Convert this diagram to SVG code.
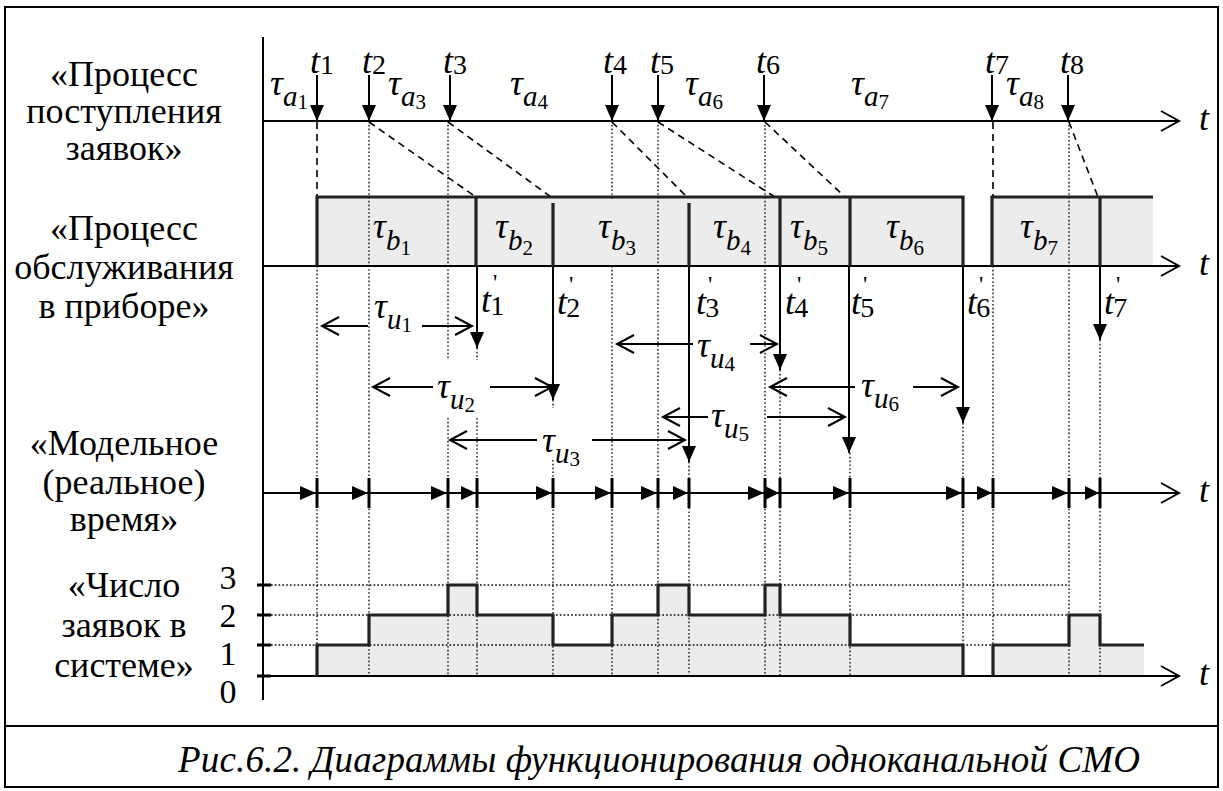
<svg xmlns="http://www.w3.org/2000/svg" width="1223" height="791" viewBox="0 0 1223 791" font-family="Times New Roman, Liberation Serif, Tinos, DejaVu Serif, serif">
<style>
text{font-family:"Times New Roman","Liberation Serif",Tinos,"DejaVu Serif",serif;fill:#000}
.lbl{font-size:36px;text-anchor:middle}
.m{font-size:36px;font-style:italic}
.s1{font-size:29px;font-style:italic}
.d1{font-size:28px;font-style:normal}
.d2{font-size:21px;font-style:normal}
.pr{font-size:24px;font-style:normal}
.num{font-size:34px;text-anchor:middle}
.cap{font-size:37px;font-style:italic}
.ax{stroke:#000;stroke-width:2;fill:none}
.oa{stroke:#000;stroke-width:2;fill:none}
.dot{stroke:#000;stroke-width:1.3;stroke-dasharray:1.6 2.2;fill:none}
.dash{stroke:#000;stroke-width:1.6;stroke-dasharray:7 5;fill:none}
.thick{stroke:#222;stroke-width:3.2;fill:none}
.fillg{fill:#ececec;stroke:none}
.arr{stroke:#000;stroke-width:2;fill:none}
.head{fill:#000;stroke:none}
</style>
<defs>
<marker id="down" viewBox="0 0 16 14" refX="16" refY="7" markerWidth="16" markerHeight="14" markerUnits="userSpaceOnUse" orient="auto">
<path d="M0,0 L16,7 L0,14 Z" fill="#000"/>
</marker>
</defs>
<rect x="5" y="7" width="1213" height="780" fill="#fff" stroke="#000" stroke-width="2"/>
<line x1="5" y1="726" x2="1218" y2="726" stroke="#000" stroke-width="2"/>

<g id="labels-left">
<text class="lbl" x="124" y="86">«Процесс</text>
<text class="lbl" x="124" y="123">поступления</text>
<text class="lbl" x="124" y="160">заявок»</text>
<text class="lbl" x="124" y="240">«Процесс</text>
<text class="lbl" x="124" y="279">обслуживания</text>
<text class="lbl" x="124" y="318">в приборе»</text>
<text class="lbl" x="124" y="455">«Модельное</text>
<text class="lbl" x="124" y="494">(реальное)</text>
<text class="lbl" x="124" y="531">время»</text>
<text class="lbl" x="124" y="597">«Число</text>
<text class="lbl" x="124" y="637">заявок в</text>
<text class="lbl" x="124" y="677">системе»</text>
</g>

<g id="service-fill">
<rect class="fillg" x="317" y="197" width="646" height="69"/>
<rect class="fillg" x="992" y="197" width="161" height="69"/>
</g>

<g id="count-fill">
<path class="fillg" d="M317,676 V645 H369 V615 H448 V585 H477 V615 H553 V645 H612 V615 H658 V585 H689 V615 H765 V585 H780 V615 H850 V645 H963 V676 Z M993,676 V645 H1069 V615 H1100 V645 H1144 V676 Z"/>
</g>

<g id="connectors">
<path class="dot" d="M317,266 V676 M369,121 V676 M448,121 V360 M448,418 V676 M612,121 V200 M612,266 V676 M658,121 V676 M765,121 V676 M993,266 V676 M1069,121 V676"/>
<path class="dot" d="M477,348 V360 M477,418 V676 M553,400 V408 M553,460 V676 M689,462 V676 M780,370 V676 M850,453 V676 M963,423 V676 M1100,340 V676"/>
<path class="dot" d="M271,645 H1069 M271,615 H1069 M271,585 H1069"/>
<path class="dash" d="M317,122 V197 M993,122 V197 M369,122 L476,197 M448,122 L551,197 M612,122 L687,197 M658,122 L775,197 M765,122 L845,197 M1069,122 L1098,197"/>

<line class="ax" x1="263" y1="37" x2="263" y2="700"/>
<path class="ax" d="M263,121 H1178 M1161,111 L1179,121 L1161,131"/>
<path class="ax" d="M263,266 H1178 M1161,256 L1179,266 L1161,276"/>
<path class="ax" d="M263,493 H1178 M1161,483 L1179,493 L1161,503"/>
<path class="ax" d="M263,676 H1178 M1161,666 L1179,676 L1161,686"/>

<path class="thick" d="M317,266 V197 H963 V266 M992,266 V197 H1153"/>
<path class="thick" d="M476,197 V266 M553,203 V266 M689,203 V266 M780,197 V266 M850,197 V266 M1100,197 V266"/>

<path class="thick" d="M317,676 V645 H369 V615 H448 V585 H477 V615 H553 V645 H612 V615 H658 V585 H689 V615 H765 V585 H780 V615 H850 V645 H963 V676 M993,676 V645 H1069 V615 H1100 V645 H1144"/>
<path d="M257,676 H271 M257,645 H271 M257,615 H271 M257,585 H271" stroke="#000" stroke-width="3"/>

<g class="arr" marker-end="url(#down)">
<line x1="317" y1="75" x2="317" y2="121"/>
<line x1="369" y1="75" x2="369" y2="121"/>
<line x1="450" y1="75" x2="450" y2="121"/>
<line x1="612" y1="75" x2="612" y2="121"/>
<line x1="658" y1="75" x2="658" y2="121"/>
<line x1="764" y1="75" x2="764" y2="121"/>
<line x1="992" y1="75" x2="992" y2="121"/>
<line x1="1068" y1="75" x2="1068" y2="121"/>
</g>
<g class="arr" marker-end="url(#down)">
<line x1="477" y1="266" x2="477" y2="348"/>
<line x1="553" y1="266" x2="553" y2="400"/>
<line x1="689" y1="266" x2="689" y2="462"/>
<line x1="780" y1="266" x2="780" y2="370"/>
<line x1="849" y1="266" x2="849" y2="453"/>
<line x1="963" y1="266" x2="963" y2="423"/>
<line x1="1100" y1="266" x2="1100" y2="340"/>
</g>

<path class="oa" d="M322,326 H368 M339,317 L322,326 L339,335 M422,326 H472 M455,317 L472,326 L455,335"/>
<path class="oa" d="M373,387 H433 M390,378 L373,387 L390,396 M490,387 H552 M535,378 L552,387 L535,396"/>
<path class="oa" d="M450,440 H537 M467,431 L450,440 L467,449 M592,440 H685 M668,431 L685,440 L668,449"/>
<path class="oa" d="M617,344 H693 M634,335 L617,344 L634,353 M750,344 H777 M760,335 L777,344 L760,353"/>
<path class="oa" d="M663,417 H708 M680,408 L663,417 L680,426 M767,417 H845 M828,408 L845,417 L828,426"/>
<path class="oa" d="M770,387 H855 M787,378 L770,387 L787,396 M913,387 H958 M941,378 L958,387 L941,396"/>

<g id="model-ticks">
<path d="M317,478 V508 M369,478 V508 M448,478 V508 M477,478 V508 M553,478 V508 M612,478 V508 M658,478 V508 M689,478 V508 M765,478 V508 M780,478 V508 M850,478 V508 M963,478 V508 M993,478 V508 M1069,478 V508 M1100,478 V508" stroke="#000" stroke-width="3"/>
<path class="head" d="M300,486 L316,493 L300,500 Z M352,486 L368,493 L352,500 Z M431,486 L447,493 L431,500 Z M461,486 L476,493 L461,500 Z M536,486 L552,493 L536,500 Z M595,486 L611,493 L595,500 Z M641,486 L657,493 L641,500 Z M673,486 L688,493 L673,500 Z M748,486 L764,493 L748,500 Z M765,486 L779,493 L765,500 Z M833,486 L849,493 L833,500 Z M946,486 L962,493 L946,500 Z M977,486 L992,493 L977,500 Z M1052,486 L1068,493 L1052,500 Z M1085,486 L1099,493 L1085,500 Z"/>
</g>
</g>

<g id="arrival-labels">
<text class="m" x="310" y="73">t<tspan class="d1" dy="1">1</tspan></text>
<text class="m" x="362" y="73">t<tspan class="d1" dy="1">2</tspan></text>
<text class="m" x="443" y="73">t<tspan class="d1" dy="1">3</tspan></text>
<text class="m" x="603" y="73">t<tspan class="d1" dy="1">4</tspan></text>
<text class="m" x="650" y="73">t<tspan class="d1" dy="1">5</tspan></text>
<text class="m" x="756" y="73">t<tspan class="d1" dy="1">6</tspan></text>
<text class="m" x="985" y="73">t<tspan class="d1" dy="1">7</tspan></text>
<text class="m" x="1060" y="73">t<tspan class="d1" dy="1">8</tspan></text>
<text class="m" x="270" y="95">τ<tspan class="s1" dy="11">a</tspan><tspan class="d2" dy="3">1</tspan></text>
<text class="m" x="388" y="95">τ<tspan class="s1" dy="11">a</tspan><tspan class="d2" dy="3">3</tspan></text>
<text class="m" x="510" y="95">τ<tspan class="s1" dy="11">a</tspan><tspan class="d2" dy="3">4</tspan></text>
<text class="m" x="685" y="95">τ<tspan class="s1" dy="11">a</tspan><tspan class="d2" dy="3">6</tspan></text>
<text class="m" x="851" y="95">τ<tspan class="s1" dy="11">a</tspan><tspan class="d2" dy="3">7</tspan></text>
<text class="m" x="1006" y="95">τ<tspan class="s1" dy="11">a</tspan><tspan class="d2" dy="3">8</tspan></text>
</g>

<g id="service-labels">
<rect x="598" y="205" width="50" height="55" fill="#ececec"/>
<text class="m" x="373" y="238">τ<tspan class="s1" dy="12">b</tspan><tspan class="d2" dy="5">1</tspan></text>
<text class="m" x="495" y="238">τ<tspan class="s1" dy="12">b</tspan><tspan class="d2" dy="5">2</tspan></text>
<text class="m" x="598" y="238">τ<tspan class="s1" dy="12">b</tspan><tspan class="d2" dy="5">3</tspan></text>
<text class="m" x="713" y="238">τ<tspan class="s1" dy="12">b</tspan><tspan class="d2" dy="5">4</tspan></text>
<text class="m" x="790" y="238">τ<tspan class="s1" dy="12">b</tspan><tspan class="d2" dy="5">5</tspan></text>
<text class="m" x="886" y="238">τ<tspan class="s1" dy="12">b</tspan><tspan class="d2" dy="5">6</tspan></text>
<text class="m" x="1020" y="238">τ<tspan class="s1" dy="12">b</tspan><tspan class="d2" dy="5">7</tspan></text>
</g>

<g id="departure-labels">
<text class="m" x="481" y="312">t<tspan class="pr" dx="2" dy="-22">'</tspan><tspan class="d1" dx="-7" dy="25">1</tspan></text>
<text class="m" x="557" y="314">t<tspan class="pr" dx="2" dy="-22">'</tspan><tspan class="d1" dx="-7" dy="25">2</tspan></text>
<text class="m" x="696" y="314">t<tspan class="pr" dx="2" dy="-22">'</tspan><tspan class="d1" dx="-7" dy="25">3</tspan></text>
<text class="m" x="785" y="314">t<tspan class="pr" dx="2" dy="-22">'</tspan><tspan class="d1" dx="-7" dy="25">4</tspan></text>
<text class="m" x="851" y="314">t<tspan class="pr" dx="2" dy="-22">'</tspan><tspan class="d1" dx="-7" dy="25">5</tspan></text>
<text class="m" x="967" y="314">t<tspan class="pr" dx="2" dy="-22">'</tspan><tspan class="d1" dx="-7" dy="25">6</tspan></text>
<text class="m" x="1104" y="314">t<tspan class="pr" dx="2" dy="-22">'</tspan><tspan class="d1" dx="-7" dy="25">7</tspan></text>
</g>

<g id="wait-labels">
<rect x="435" y="360" width="52" height="58" fill="#fff"/>
<rect x="540" y="408" width="50" height="52" fill="#fff"/>
<text class="m" x="374" y="318">τ<tspan class="s1" dy="11">u</tspan><tspan class="d2" dy="3">1</tspan></text>
<text class="m" x="437" y="398">τ<tspan class="s1" dy="11">u</tspan><tspan class="d2" dy="3">2</tspan></text>
<text class="m" x="542" y="452">τ<tspan class="s1" dy="11">u</tspan><tspan class="d2" dy="3">3</tspan></text>
<text class="m" x="697" y="357">τ<tspan class="s1" dy="11">u</tspan><tspan class="d2" dy="3">4</tspan></text>
<text class="m" x="711" y="427">τ<tspan class="s1" dy="11">u</tspan><tspan class="d2" dy="3">5</tspan></text>
<text class="m" x="861" y="397">τ<tspan class="s1" dy="11">u</tspan><tspan class="d2" dy="3">6</tspan></text>
</g>

<g id="axis-labels">
<text class="m" x="1199" y="130">t</text>
<text class="m" x="1199" y="275">t</text>
<text class="m" x="1199" y="502">t</text>
<text class="m" x="1199" y="685">t</text>
<text class="num" x="228" y="589">3</text>
<text class="num" x="228" y="627">2</text>
<text class="num" x="228" y="665">1</text>
<text class="num" x="228" y="703">0</text>
</g>

<g id="caption">
<text class="cap" x="178" y="772" textLength="962" lengthAdjust="spacing">Рис.6.2. Диаграммы функционирования одноканальной СМО</text>
</g>
</svg>
